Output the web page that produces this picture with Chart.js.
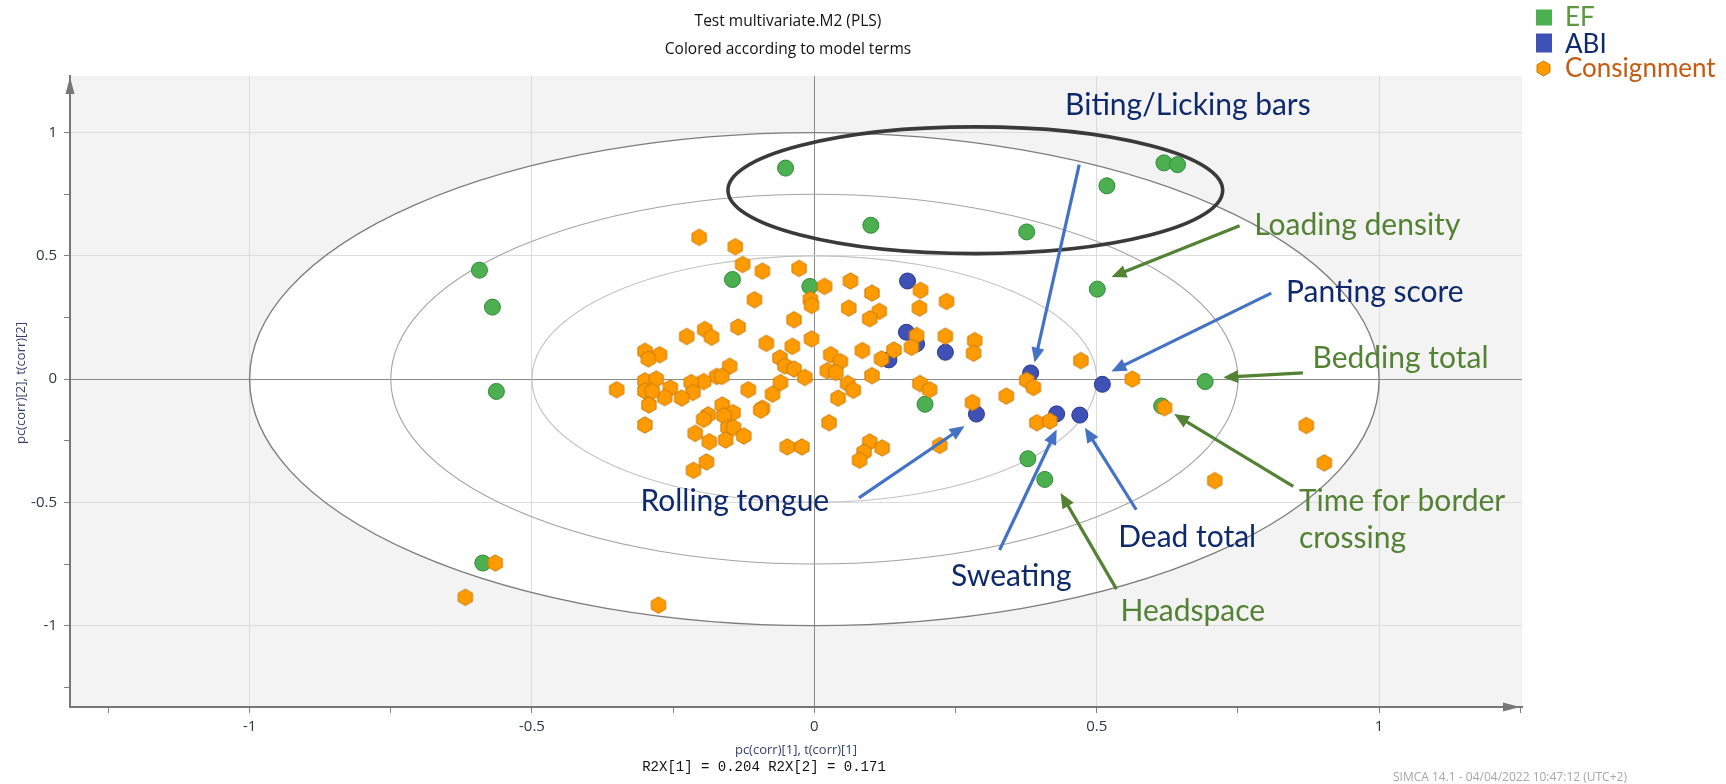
<!DOCTYPE html>
<html>
<head>
<meta charset="utf-8">
<title>Test multivariate.M2 (PLS)</title>
<script src="https://cdn.jsdelivr.net/npm/chart.js@4.4.1/dist/chart.umd.min.js"></script>
<style>
  html,body{margin:0;padding:0;background:#fff;}
  #wrap{width:1726px;height:784px;}
</style>
</head>
<body>
<div id="wrap"><canvas id="plot" width="1726" height="784"></canvas></div>
<script>
// ---- data (pc(corr)[1], pc(corr)[2]) ----
const efPoints=[
  [-0.593,0.442],[-0.570,0.292],[-0.563,-0.050],[-0.051,0.856],[0.100,0.624],[0.376,0.597],
  [0.518,0.784],[0.619,0.877],[0.643,0.870],[0.501,0.365],[0.692,-0.010],[0.615,-0.109],
  [0.378,-0.323],[0.408,-0.407],[-0.145,0.404],[-0.008,0.376],[0.196,-0.102],[-0.587,-0.746]
];
const abiPoints=[
  [0.165,0.398],[0.163,0.190],[0.181,0.143],[0.232,0.109],[0.132,0.078],
  [0.383,0.025],[0.287,-0.142],[0.510,-0.021],[0.429,-0.141],[0.470,-0.146]
];
const consignmentPoints=[
  [-0.204,0.575],[-0.140,0.537],[-0.127,0.465],[-0.092,0.438],[-0.027,0.449],[0.018,0.376],
  [0.064,0.398],[0.102,0.349],[0.188,0.360],[0.234,0.315],[-0.106,0.322],[-0.007,0.323],
  [-0.005,0.299],[0.061,0.288],[0.115,0.275],[0.098,0.245],[0.186,0.288],[-0.036,0.241],
  [-0.135,0.211],[-0.194,0.201],[-0.182,0.170],[-0.226,0.173],[-0.005,0.163],[0.181,0.177],
  [0.172,0.129],[0.232,0.174],[0.284,0.156],[0.282,0.105],[-0.085,0.145],[-0.039,0.133],
  [0.085,0.116],[0.141,0.118],[0.119,0.082],[0.029,0.099],[0.046,0.071],[0.023,0.034],
  [0.038,0.027],[-0.061,0.086],[-0.052,0.054],[-0.036,0.041],[-0.017,0.007],[0.102,0.014],
  [-0.300,0.113],[-0.274,0.099],[-0.294,0.082],[-0.150,0.052],[-0.173,0.011],[-0.164,0.011],
  [-0.196,-0.010],[-0.218,-0.014],[-0.215,-0.054],[-0.235,-0.077],[-0.255,-0.036],[-0.265,-0.075],
  [-0.300,-0.007],[-0.280,0.000],[-0.300,-0.048],[-0.287,-0.050],[-0.293,-0.105],[-0.300,-0.186],
  [-0.350,-0.043],[-0.117,-0.043],[-0.074,-0.061],[-0.060,-0.014],[-0.092,-0.118],[-0.095,-0.126],
  [0.059,-0.018],[0.069,-0.045],[0.042,-0.077],[0.026,-0.177],[-0.163,-0.105],[-0.144,-0.136],
  [-0.188,-0.145],[-0.196,-0.163],[-0.160,-0.149],[-0.153,-0.197],[-0.143,-0.197],[-0.211,-0.220],
  [-0.186,-0.254],[-0.157,-0.247],[-0.125,-0.231],[-0.048,-0.275],[-0.022,-0.275],[-0.191,-0.336],
  [-0.214,-0.370],[0.098,-0.255],[0.120,-0.279],[0.088,-0.296],[0.080,-0.329],[0.222,-0.269],
  [-0.276,-0.917],[0.187,-0.018],[0.204,-0.043],[0.280,-0.095],[0.340,-0.069],[0.376,-0.005],
  [0.388,-0.034],[0.394,-0.177],[0.417,-0.170],[0.472,0.075],[0.563,0.000],[0.620,-0.116],
  [0.871,-0.188],[0.903,-0.340],[0.709,-0.412],[-0.565,-0.746],[-0.618,-0.885]
];
const xTickValues=[-1.25,-1,-0.75,-0.5,-0.25,0,0.25,0.5,0.75,1,1.25];
const yTickValues=[-1.25,-1,-0.75,-0.5,-0.25,0,0.25,0.5,0.75,1];
const majorTickLabels=['-1','-0.5','0','0.5','1'];
const ellipseRadii=[1,0.75,0.5];

// ---- look ----
const GREEN='#4caf50', GREEN_EDGE='#2f8a36';
const BLUE='#3f51b5', BLUE_EDGE='#2a3990';
const ORANGE='#ff9a00', ORANGE_EDGE='#c87d0a';
const NAVY='#0f2a6c', LEAF='#548235', ARROW_BLUE='#4472c4';
const annFont='30px Lato';

// 注釈（テキスト＋矢印）はデータ座標で置く
const notes=[
  {text:'Biting/Licking bars', x:0.444, y:1.073, color:NAVY, from:[0.469,0.870], to:[0.390,0.067], arrow:ARROW_BLUE},
  {text:'Loading density', x:0.779, y:0.584, color:LEAF, from:[0.753,0.622], to:[0.526,0.414], arrow:LEAF},
  {text:'Panting score', x:0.835, y:0.312, color:NAVY, from:[0.809,0.349], to:[0.526,0.031], arrow:ARROW_BLUE},
  {text:'Bedding total', x:0.882, y:0.045, color:LEAF, from:[0.865,0.025], to:[0.724,0.007], arrow:LEAF},
  {text:'Time for border', x:0.858, y:-0.534, color:LEAF, from:[0.848,-0.435], to:[0.637,-0.142], arrow:LEAF},
  {text:'crossing', x:0.858, y:-0.686, color:LEAF},
  {text:'Dead total', x:0.538, y:-0.679, color:NAVY, from:[0.570,-0.530], to:[0.479,-0.197], arrow:ARROW_BLUE},
  {text:'Headspace', x:0.542, y:-0.982, color:LEAF, from:[0.535,-0.852], to:[0.436,-0.462], arrow:LEAF},
  {text:'Sweating', x:0.242, y:-0.838, color:NAVY, from:[0.328,-0.693], to:[0.429,-0.204], arrow:ARROW_BLUE},
  {text:'Rolling tongue', x:-0.308, y:-0.534, color:NAVY, from:[0.079,-0.482], to:[0.266,-0.190], arrow:ARROW_BLUE}
];

function hexagon(ctx,cx,cy,r){
  ctx.beginPath();
  for(let i=0;i<6;i++){
    const a=Math.PI/180*(60*i-90);
    const px=cx+r*Math.cos(a), py=cy+r*Math.sin(a);
    if(i===0) ctx.moveTo(px,py); else ctx.lineTo(px,py);
  }
  ctx.closePath();
}
function hexMarker(r){
  const c=document.createElement('canvas');
  const s=Math.ceil(r*2+3);
  c.width=s; c.height=s;
  const g=c.getContext('2d');
  hexagon(g,s/2,s/2,r);
  g.fillStyle=ORANGE; g.fill();
  g.strokeStyle=ORANGE_EDGE; g.lineWidth=1; g.stroke();
  return c;
}
const hexStyle=hexMarker(8.2);

function drawArrow(ctx,x1,y1,x2,y2,color){
  const ang=Math.atan2(y2-y1,x2-x1), L=15, W=6.5;
  const bx=x2-L*Math.cos(ang), by=y2-L*Math.sin(ang);
  ctx.strokeStyle=color; ctx.lineWidth=3.2; ctx.lineCap='butt';
  ctx.beginPath(); ctx.moveTo(x1,y1); ctx.lineTo(bx+3*Math.cos(ang),by+3*Math.sin(ang)); ctx.stroke();
  ctx.fillStyle=color;
  ctx.beginPath();
  ctx.moveTo(x2,y2);
  ctx.lineTo(bx+W*Math.sin(ang),by-W*Math.cos(ang));
  ctx.lineTo(bx-W*Math.sin(ang),by+W*Math.cos(ang));
  ctx.closePath(); ctx.fill();
}

const simcaPlugin={
  id:'simca',
  beforeDraw(chart){
    const {ctx,chartArea:a,scales:{x,y}}=chart;
    ctx.save();
    ctx.fillStyle='#f3f3f3';
    ctx.fillRect(a.left,a.top,a.right-a.left,a.bottom-a.top);
    const cx=x.getPixelForValue(0), cy=y.getPixelForValue(0);
    ctx.beginPath();
    ctx.ellipse(cx,cy,x.getPixelForValue(1)-cx,cy-y.getPixelForValue(1),0,0,Math.PI*2);
    ctx.fillStyle='#fff'; ctx.fill();
    ctx.restore();
  },
  beforeDatasetsDraw(chart){
    const {ctx,chartArea:a,scales:{x,y}}=chart;
    const cx=x.getPixelForValue(0), cy=y.getPixelForValue(0);
    const strokes=['#7d7d7d','#a3a3a3','#c2c2c2'];
    ctx.save();
    ellipseRadii.forEach((r,i)=>{
      ctx.beginPath();
      ctx.ellipse(cx,cy,x.getPixelForValue(r)-cx,cy-y.getPixelForValue(r),0,0,Math.PI*2);
      ctx.strokeStyle=strokes[i]; ctx.lineWidth=i===0?1.4:1.1; ctx.stroke();
    });
    // 軸の矢印
    ctx.fillStyle='#777';
    ctx.beginPath(); ctx.moveTo(a.left,a.top+1); ctx.lineTo(a.left-4.5,a.top+18); ctx.lineTo(a.left+4.5,a.top+18); ctx.closePath(); ctx.fill();
    ctx.beginPath(); ctx.moveTo(a.right-2,a.bottom); ctx.lineTo(a.right-19,a.bottom-4.5); ctx.lineTo(a.right-19,a.bottom+4.5); ctx.closePath(); ctx.fill();
    ctx.restore();
  },
  afterDraw(chart){
    const {ctx,chartArea:a,scales:{x,y}}=chart;
    const mid=(a.left+a.right)/2;
    ctx.save();
    // 手書きの楕円（Biting/Licking bars の群）
    ctx.beginPath();
    const ex=x.getPixelForValue(0.285), ey=y.getPixelForValue(0.766);
    ctx.ellipse(ex,ey,x.getPixelForValue(0.285+0.438)-ex,ey-y.getPixelForValue(0.766+0.257),0,0,Math.PI*2);
    ctx.strokeStyle='#3a3a3a'; ctx.lineWidth=3.6; ctx.stroke();

    // 注釈
    ctx.font=annFont; ctx.textBaseline='alphabetic'; ctx.textAlign='left';
    notes.forEach(n=>{
      ctx.fillStyle=n.color;
      ctx.fillText(n.text,x.getPixelForValue(n.x),y.getPixelForValue(n.y));
      if(n.from) drawArrow(ctx,x.getPixelForValue(n.from[0]),y.getPixelForValue(n.from[1]),
                              x.getPixelForValue(n.to[0]),y.getPixelForValue(n.to[1]),n.arrow);
    });

    // タイトル
    ctx.textAlign='center'; ctx.textBaseline='middle'; ctx.fillStyle='#111';
    ctx.font='15.5px "Open Sans"';
    ctx.fillText('Test multivariate.M2 (PLS)',788,22);
    ctx.fillText('Colored according to model terms',788,50);

    // 軸タイトル
    ctx.fillStyle='#34406a'; ctx.font='13px "Open Sans"';
    ctx.fillText('pc(corr)[1], t(corr)[1]',mid,750);
    ctx.save(); ctx.translate(21,383); ctx.rotate(-Math.PI/2);
    ctx.fillText('pc(corr)[2], t(corr)[2]',0,0); ctx.restore();
    ctx.fillStyle='#111'; ctx.font='14px "Liberation Mono"';
    ctx.fillText('R2X[1] = 0.204 R2X[2] = 0.171',764,767);
    ctx.fillStyle='#a6a6a6'; ctx.font='12px "Open Sans"'; ctx.textAlign='left';
    ctx.fillText('SIMCA 14.1 - 04/04/2022 10:47:12 (UTC+2)',1393,778);

    // 凡例
    ctx.textBaseline='alphabetic'; ctx.font='26px Lato';
    ctx.fillStyle=GREEN; ctx.fillRect(1536,9.5,16,16);
    ctx.fillStyle='#5a9a3c'; ctx.fillText('EF',1565,25.5);
    ctx.fillStyle=BLUE; ctx.fillRect(1536,33.5,16,19);
    ctx.fillStyle=NAVY; ctx.fillText('ABI',1565,52.5);
    hexagon(ctx,1543.5,68.5,7.5);
    ctx.fillStyle=ORANGE; ctx.fill(); ctx.strokeStyle=ORANGE_EDGE; ctx.lineWidth=1; ctx.stroke();
    ctx.fillStyle='#c55a11'; ctx.fillText('Consignment',1565,76.5);
    ctx.restore();
  }
};

const isMajor=v=>Math.abs(v*2-Math.round(v*2))<1e-6;
const gridColor=c=>{
  const v=c.tick?c.tick.value:null;
  if(v===null) return 'rgba(0,0,0,0)';
  if(Math.abs(v)<1e-9) return '#8a8a8a';
  return isMajor(v)?'#dcdcdc':'rgba(0,0,0,0)';
};
const tickLabel=v=>isMajor(v)?majorTickLabels[Math.round(v*2)+2]:'';
const tickFont={family:'"Open Sans"',size:15};

new Chart(document.getElementById('plot'),{
  type:'scatter',
  data:{datasets:[
    {label:'EF',data:efPoints.map(p=>({x:p[0],y:p[1]})),order:3,
     pointStyle:'circle',pointRadius:8,backgroundColor:GREEN,borderColor:GREEN_EDGE,borderWidth:1},
    {label:'ABI',data:abiPoints.map(p=>({x:p[0],y:p[1]})),order:2,
     pointStyle:'circle',pointRadius:8,backgroundColor:BLUE,borderColor:BLUE_EDGE,borderWidth:1},
    {label:'Consignment',data:consignmentPoints.map(p=>({x:p[0],y:p[1]})),order:1,
     pointStyle:hexStyle,pointRadius:8,backgroundColor:ORANGE,borderColor:ORANGE_EDGE}
  ]},
  options:{
    responsive:false,animation:false,devicePixelRatio:1,
    layout:{padding:{top:76,right:204,bottom:0,left:0}},
    plugins:{legend:{display:false},tooltip:{enabled:false},title:{display:false}},
    events:[],
    scales:{
      x:{type:'linear',min:-1.318,max:1.253,
        afterBuildTicks:s=>{s.ticks=xTickValues.map(v=>({value:v}));},
        afterFit:s=>{s.height=77;},
        ticks:{autoSkip:false,maxRotation:0,padding:5,color:'#2e3447',font:tickFont,callback:tickLabel},
        grid:{color:gridColor,tickColor:'#808080',tickLength:6,lineWidth:1},
        border:{display:true,color:'#777',width:2}},
      y:{type:'linear',min:-1.33,max:1.2295,
        afterBuildTicks:s=>{s.ticks=yTickValues.map(v=>({value:v}));},
        afterFit:s=>{s.width=70;},
        ticks:{autoSkip:false,padding:7,color:'#2e3447',font:tickFont,callback:tickLabel},
        grid:{color:gridColor,tickColor:'#808080',tickLength:6,lineWidth:1},
        border:{display:true,color:'#777',width:2}}
    }
  },
  plugins:[simcaPlugin]
});
</script>
</body>
</html>
